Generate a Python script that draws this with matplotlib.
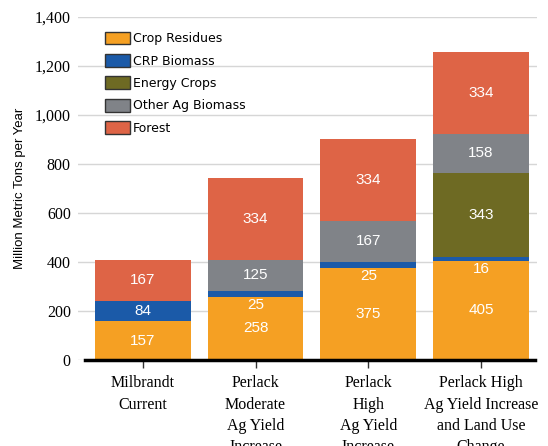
import numpy as np
import matplotlib.pyplot as plt

# scenarios and values (million metric tons per year)
scenarios = ['Milbrandt\nCurrent',
             'Perlack\nModerate\nAg Yield\nIncrease',
             'Perlack\nHigh\nAg Yield\nIncrease',
             'Perlack High\nAg Yield Increase\nand Land Use\nChange']
crop_residues = [157, 258, 375, 405]
crp_biomass = [84, 25, 25, 16]
energy_crops = [0, 0, 0, 343]
other_ag = [0, 125, 167, 158]
forest = [167, 334, 334, 334]

series = [('Crop Residues', crop_residues, '#F5A023'),
          ('CRP Biomass', crp_biomass, '#1B5AA8'),
          ('Energy Crops', energy_crops, '#6E6A23'),
          ('Other Ag Biomass', other_ag, '#808388'),
          ('Forest', forest, '#DE6446')]

fig = plt.figure(figsize=(5.48, 4.46), dpi=100)
ax = fig.add_axes([0.142, 0.193, 0.838, 0.769])

x = np.arange(len(scenarios))
bottom = np.zeros(len(scenarios))
for name, vals, color in series:
    vals = np.array(vals, dtype=float)
    ax.bar(x, vals, 0.85, bottom=bottom, color=color, label=name, zorder=2)
    for xi, b, v in zip(x, bottom, vals):
        if v <= 0:
            continue
        yc = b + v / 2
        # thin strips get their label just below, inside the orange
        if v < 40:
            yc = b - 32
        ax.text(xi, yc, f'{int(v)}', ha='center', va='center', color='white',
                fontsize=11, family='Liberation Sans', zorder=3)
    bottom += vals

ax.set_xlim(-0.577, 3.497)
ax.set_ylim(0, 1400)
ax.set_yticks(range(0, 1401, 200))
ax.set_yticklabels([f'{v:,}' for v in range(0, 1401, 200)],
                   family='Liberation Serif', fontsize=11.5)
ax.grid(axis='y', color='#d6d6d6', linewidth=1, zorder=0)
ax.tick_params(axis='y', length=0, pad=5)
ax.set_xticks(x)
ax.set_xticklabels(scenarios, family='Liberation Serif', fontsize=11.5, linespacing=1.45)
ax.tick_params(axis='x', length=6, width=1, color='#333333', pad=5)

for s in ['top', 'right', 'left']:
    ax.spines[s].set_visible(False)
ax.spines['bottom'].set_linewidth(2.5)
ax.spines['bottom'].set_color('black')
ax.spines['bottom'].set_bounds(-0.51, 3.48)
ax.spines['bottom'].set_zorder(4)

fig.text(0.037, 0.577, 'Million Metric Tons per Year', rotation=90, ha='center',
         va='center', family='Liberation Sans', fontsize=9.5)

leg = ax.legend(loc='upper left', bbox_to_anchor=(0.035, 0.99), frameon=False,
                handlelength=2.0, handleheight=1.2, handletextpad=0.2,
                labelspacing=0.7, prop={'family': 'DejaVu Sans', 'size': 9})
for h in leg.legend_handles:
    h.set_edgecolor('#333333')
    h.set_linewidth(1)

fig.savefig('out.png', dpi=100)
